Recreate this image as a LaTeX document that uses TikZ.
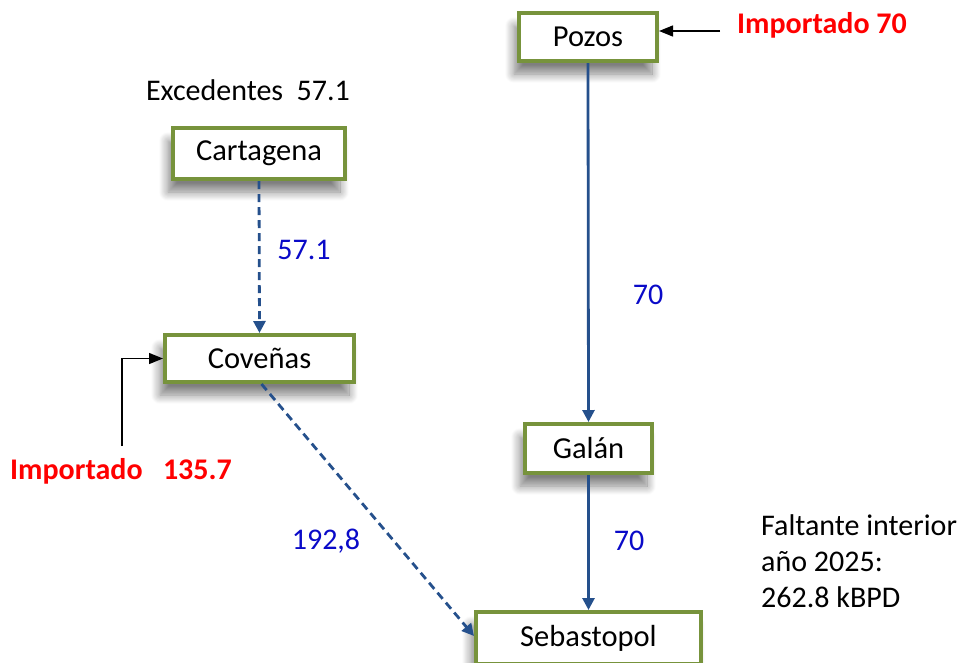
\documentclass[tikz,border=0pt]{standalone}
\usepackage{fontspec}
\setmainfont{Carlito}
\usetikzlibrary{arrows.meta,shadows.blur}
\definecolor{boxgreen}{RGB}{119,147,60}
\definecolor{flowblue}{RGB}{37,80,140}
\definecolor{lblblue}{RGB}{10,10,200}
\definecolor{impred}{RGB}{255,0,0}
\tikzset{
  stn/.style={draw=boxgreen, line width=4pt, fill=white, inner sep=0pt,
    font=\fontsize{30.5}{36}\selectfont,
    blur shadow={shadow xshift=-5pt, shadow yshift=-13pt, shadow blur steps=12, shadow blur radius=9pt, shadow opacity=50}},
  flow/.style={draw=flowblue, line width=2.8pt, -{Triangle[width=12pt,length=12pt]}},
  dflow/.style={flow, dash pattern=on 8pt off 5pt},
  imparrow/.style={draw=black, line width=1.3pt, -{Triangle[width=11pt,length=14pt]}},
  lbl/.style={text=lblblue, font=\fontsize{30}{36}\selectfont},
  imp/.style={text=impred, font=\bfseries\fontsize{30}{36}\selectfont, inner sep=0pt},
  txt/.style={text=black, font=\fontsize{30}{36}\selectfont, inner sep=0pt}
}
\begin{document}
\begin{tikzpicture}[x=1pt,y=-1pt]
\useasboundingbox (0,0) rectangle (961,662);
\node[stn, minimum width=138pt, minimum height=48pt] (pozos) at (588,37) {Pozos};
\node[stn, minimum width=172pt, minimum height=51pt] (cart) at (259,153.5) {Cartagena};
\node[stn, minimum width=189pt, minimum height=47pt] (cove) at (259.5,358.5) {Coveñas};
\node[stn, minimum width=127pt, minimum height=49pt] (galan) at (588.5,448.5) {Galán};
\node[stn, minimum width=225pt, minimum height=52pt] (sebas) at (588.5,638) {Sebastopol};

\coordinate (cs) at ([xshift=2pt]cove.south);
\draw[dflow] (cart.south) -- (cove.north);
\draw[dflow] (cs) -- ([yshift=2pt]sebas.west);
\draw[flow] (pozos.south) -- (galan.north);
\draw[flow] (galan.south) -- (sebas.north);

\coordinate (imp1) at (720,31);
\draw[imparrow] (imp1) -- (imp1 -| pozos.east);
\coordinate (imp2) at (122,446);
\draw[imparrow] (imp2) |- (cove.west);

\node[imp, anchor=west] (impa) at (737,25) {Importado 70};
\node[imp, anchor=west] (impb) at (10,471) {Importado\ \ \ 135.7};
\node[txt] (exc) at (248,90) {Excedentes\ \ 57.1};
\node[lbl] (l1) at (304,250) {57.1};
\node[lbl] (l2) at (648,295) {70};
\node[lbl] (l3) at (326,541) {192,8};
\node[lbl] (l4) at (629,541) {70};
\node[txt, anchor=west, align=left] (falt) at (761,561) {Faltante interior\\año 2025:\\262.8 kBPD};
\end{tikzpicture}
\end{document}
